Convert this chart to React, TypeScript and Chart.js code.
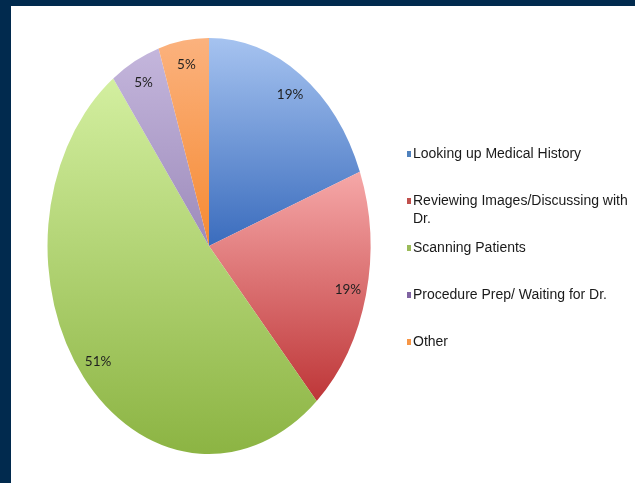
import React, { useEffect, useRef } from "react";
import { Chart, registerables } from "chart.js";

Chart.register(...registerables);

const categories = [
  "Looking up Medical History",
  "Reviewing Images/Discussing with Dr.",
  "Scanning Patients",
  "Procedure Prep/ Waiting for Dr.",
  "Other",
];
const legendLines = [
  ["Looking up Medical History"],
  ["Reviewing Images/Discussing with", "Dr."],
  ["Scanning Patients"],
  ["Procedure Prep/ Waiting for Dr."],
  ["Other"],
];
const values = [19, 19, 51, 5, 5];
const valueLabels = values.map((v) => v + "%");
const legendColors = ["#4f81bd", "#c0504d", "#9bbb59", "#8064a2", "#f79646"];
const lightColors = ["#a6c3f0", "#f6a8a8", "#d3efa0", "#c4b6dc", "#fbb27e"];
const darkColors = ["#3a6cbd", "#be3638", "#8cb443", "#9d8bbb", "#f68a32"];

const SCALE_Y = 208 / 161.5;

const ellipsePlugin = {
  id: "ellipsePie",
  beforeDatasetsDraw(chart: any) {
    const ctx = chart.ctx;
    const meta = chart.getDatasetMeta(0);
    const first = meta.data[0];
    if (!first) return;
    const cx = first.x;
    const cy = first.y;
    meta.data.forEach((arc: any, i: number) => {
      const r = arc.outerRadius;
      let minY = cy;
      let maxY = cy;
      const steps = 60;
      for (let s = 0; s <= steps; s++) {
        const a = arc.startAngle + ((arc.endAngle - arc.startAngle) * s) / steps;
        const y = cy + Math.sin(a) * r;
        if (y < minY) minY = y;
        if (y > maxY) maxY = y;
      }
      const g = ctx.createLinearGradient(0, minY, 0, maxY);
      g.addColorStop(0, lightColors[i]);
      g.addColorStop(1, darkColors[i]);
      arc.options.backgroundColor = g;
    });
    ctx.save();
    ctx.translate(cx, cy);
    ctx.scale(1, SCALE_Y);
    ctx.translate(-cx, -cy);
  },
  afterDatasetsDraw(chart: any) {
    const ctx = chart.ctx;
    ctx.restore();
    const meta = chart.getDatasetMeta(0);
    ctx.save();
    ctx.font = "13.5px Lato, 'Liberation Sans', sans-serif";
    ctx.fillStyle = "#1f1f1f";
    ctx.textAlign = "center";
    ctx.textBaseline = "middle";
    meta.data.forEach((arc: any, i: number) => {
      const mid = (arc.startAngle + arc.endAngle) / 2;
      const r = arc.outerRadius * 0.885;
      const x = arc.x + Math.cos(mid) * r;
      const y = arc.y + Math.sin(mid) * r * SCALE_Y;
      ctx.fillText(valueLabels[i], x, y);
    });
    ctx.restore();

    // legend
    ctx.save();
    ctx.font = "14px 'Liberation Sans', Arial, sans-serif";
    ctx.textAlign = "left";
    ctx.textBaseline = "middle";
    const lx = 396;
    const startY = 148;
    const step = 47;
    const lineH = 18;
    legendLines.forEach((lines, i) => {
      const y = startY + i * step;
      ctx.fillStyle = legendColors[i];
      ctx.fillRect(lx, y - 3, 4, 6);
      ctx.fillStyle = "#1a1a1a";
      lines.forEach((t, j) => {
        ctx.fillText(t, lx + 6, y + j * lineH);
      });
    });
    ctx.restore();
  },
};

export default function App() {
  const ref = useRef<HTMLCanvasElement | null>(null);
  useEffect(() => {
    if (!ref.current) return;
    const chart = new Chart(ref.current, {
      type: "pie",
      data: {
        labels: categories,
        datasets: [
          {
            data: values,
            backgroundColor: legendColors,
            borderWidth: 0,
            hoverOffset: 0,
          },
        ],
      },
      options: {
        responsive: false,
        animation: false,
        events: [],
        layout: {
          padding: { left: 36.5, right: 264.5, top: 78.5, bottom: 75.5 },
        },
        plugins: {
          legend: { display: false },
          tooltip: { enabled: false },
        },
      },
      plugins: [ellipsePlugin],
    });
    return () => chart.destroy();
  }, []);
  return (
    <div
      style={{
        position: "fixed",
        left: 0,
        top: 0,
        width: 635,
        height: 483,
        background: "#012a4e",
        overflow: "hidden",
      }}
    >
      <div
        style={{
          position: "absolute",
          left: 11,
          top: 6,
          width: 624,
          height: 477,
          background: "#ffffff",
        }}
      >
        <canvas ref={ref} width={624} height={477} style={{ display: "block" }} />
      </div>
    </div>
  );
}
